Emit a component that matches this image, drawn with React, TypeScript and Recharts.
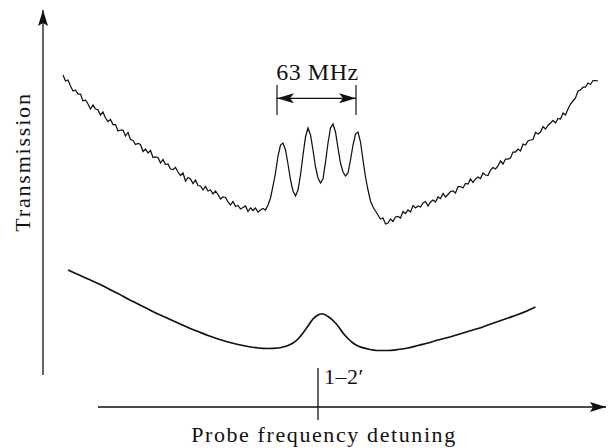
import { ComposedChart, Line, XAxis, YAxis, ReferenceLine, ReferenceDot } from "recharts";

// probe detuning in MHz, transmission in arbitrary units
const topDetuning = [
  -204, -202, -200, -198, -196, -194, -192, -190, -188, -186, -184, -182, -180, -178, -176, -174, -172, -170, -168, -166,
  -164, -162, -160, -158, -156, -154, -152, -150, -148, -146, -144, -142, -140, -138, -136, -134, -132, -130, -128, -126,
  -124, -122, -120, -118, -116, -114, -112, -110, -108, -106, -104, -102, -100, -98, -96, -94, -92, -90, -88, -86,
  -84, -82, -80, -78, -76, -74, -72, -70, -68, -66, -64, -62, -60, -58, -56, -54, -52, -50, -48, -46, -44,
  -42, -40, -38, -36, -34, -32, -30, -28, -26, -24, -22, -20, -18, -16, -14, -12, -10, -8, -6, -4, -2,
  0, 2, 4, 6, 8, 10, 12, 14, 16, 18, 20, 22, 24, 26, 28, 30, 32, 34, 36, 38, 40, 42, 44, 46, 48,
  50, 52, 54, 56, 58, 60, 62, 64, 66, 68, 70, 72, 74, 76, 78, 80, 82, 84, 86, 88,
  90, 92, 94, 96, 98, 100, 102, 104, 106, 108, 110, 112, 114, 116, 118, 120, 122, 124, 126, 128,
  130, 132, 134, 136, 138, 140, 142, 144, 146, 148, 150, 152, 154, 156, 158, 160, 162, 164, 166, 168,
  170, 172, 174, 176, 178, 180, 182, 184, 186, 188, 190, 192, 194, 196, 198, 200, 202, 204, 206, 208,
  210, 212, 214, 216, 218, 220, 222, 224,
];
const topTransmission = [
  3.73, 3.67, 3.68, 3.62, 3.57, 3.58, 3.54, 3.54, 3.47, 3.48, 3.44, 3.39, 3.43, 3.39, 3.38, 3.33, 3.36, 3.3, 3.265, 3.285,
  3.235, 3.235, 3.17, 3.18, 3.18, 3.12, 3.155, 3.085, 3.075, 3.035, 3.045, 3.035, 2.965, 2.99, 2.95, 2.975, 2.905, 2.91, 2.905, 2.85,
  2.885, 2.835, 2.84, 2.79, 2.785, 2.805, 2.76, 2.725, 2.75, 2.67, 2.705, 2.69, 2.645, 2.68, 2.625, 2.62, 2.58, 2.615, 2.57, 2.58,
  2.54, 2.57, 2.535, 2.49, 2.51, 2.505, 2.46, 2.43, 2.465, 2.415, 2.425, 2.39, 2.405, 2.42, 2.365, 2.4, 2.375, 2.4, 2.36, 2.38, 2.395,
  2.38, 2.43, 2.5, 2.62, 2.75, 2.92, 3.03, 3.05, 2.98, 2.84, 2.68, 2.57, 2.52, 2.58, 2.73, 2.93, 3.11, 3.2, 3.13, 2.98, 2.81,
  2.7, 2.65, 2.69, 2.86, 3.05, 3.2, 3.24, 3.16, 3.0, 2.85, 2.76, 2.72, 2.75, 2.88, 3.03, 3.14, 3.16, 3.06, 2.88, 2.71, 2.58, 2.47, 2.41, 2.37, 2.33,
  2.29, 2.3, 2.24, 2.25, 2.29, 2.265, 2.31, 2.315, 2.3, 2.365, 2.345, 2.38, 2.36, 2.425, 2.4, 2.42, 2.41, 2.45, 2.465, 2.42,
  2.46, 2.48, 2.46, 2.51, 2.495, 2.545, 2.51, 2.535, 2.565, 2.57, 2.55, 2.615, 2.615, 2.6, 2.645, 2.64, 2.69, 2.655, 2.69, 2.71,
  2.695, 2.75, 2.73, 2.725, 2.78, 2.805, 2.79, 2.82, 2.87, 2.84, 2.89, 2.89, 2.9, 2.96, 2.96, 2.99, 2.97, 3.04, 3.03, 3.07,
  3.08, 3.085, 3.155, 3.14, 3.16, 3.215, 3.19, 3.225, 3.25, 3.275, 3.25, 3.295, 3.29, 3.35, 3.33, 3.39, 3.44, 3.47, 3.5, 3.57,
  3.58, 3.61, 3.61, 3.65, 3.635, 3.675, 3.675, 3.67,
];

const bottomDetuning = [
  -200, -192, -184, -176, -168, -160, -152, -144, -136, -128, -120, -112, -104, -96, -88, -80, -72, -64, -56, -48, -40,
  -32, -28, -24, -20, -16, -12, -8, -4, 0, 2, 4, 8, 12, 16, 20, 24, 28, 32, 40, 48, 56, 64, 72, 80, 88, 96, 104, 112,
  120, 128, 136, 144, 152, 160, 168, 174,
];
const bottomTransmission = [
  1.78, 1.735, 1.69, 1.645, 1.595, 1.545, 1.49, 1.44, 1.39, 1.34, 1.295, 1.25, 1.205, 1.165, 1.125, 1.09, 1.06, 1.035, 1.015, 1.0, 0.995,
  1.0, 1.01, 1.025, 1.05, 1.09, 1.15, 1.22, 1.29, 1.33, 1.34, 1.34, 1.315, 1.275, 1.22, 1.15, 1.095, 1.05, 1.02, 0.99, 0.975, 0.975, 0.985, 1.0, 1.025, 1.05, 1.08, 1.105, 1.135,
  1.165, 1.195, 1.23, 1.265, 1.3, 1.335, 1.375, 1.41,
];

const splitting = [-32.8, 30.4]; // outer peaks, 63 MHz apart

const topData = topDetuning.map((d, i) => ({ detuning: d, transmission: topTransmission[i] }));
const bottomData = bottomDetuning.map((d, i) => ({ detuning: d, transmission: bottomTransmission[i] }));

const ink = "#111";
const font = "'Liberation Serif', serif";

export default function App() {
  return (
    <div style={{ position: "absolute", left: 0, top: 0, width: 608, height: 448, background: "#fff" }}>
      <ComposedChart width={608} height={448} margin={{ top: 0, right: 0, bottom: 0, left: 0 }}>
        <defs>
          <marker id="axisArrow" viewBox="0 0 16 10" refX="16" refY="5" markerWidth="16" markerHeight="10"
            markerUnits="userSpaceOnUse" orient="auto-start-reverse">
            <path d="M0,0 L16,5 L0,10 L3,5 Z" fill={ink} />
          </marker>
          <marker id="spanArrow" viewBox="0 0 17 10" refX="17" refY="5" markerWidth="17" markerHeight="10"
            markerUnits="userSpaceOnUse" orient="auto-start-reverse">
            <path d="M0,0 L17,5 L0,10 L4,5 Z" fill={ink} />
          </marker>
        </defs>
        <XAxis type="number" dataKey="detuning" domain={[-254.4, 232]} allowDataOverflow hide />
        <YAxis type="number" domain={[0, 4.48]} allowDataOverflow hide />

        {/* axes with arrow heads */}
        <ReferenceLine segment={[{ x: -220, y: 0.73 }, { x: -220, y: 4.38 }]} stroke={ink} strokeWidth={1.3} markerEnd="url(#axisArrow)" />
        <ReferenceLine segment={[{ x: -176, y: 0.41 }, { x: 230.4, y: 0.41 }]} stroke={ink} strokeWidth={1.3} markerEnd="url(#axisArrow)" />
        <ReferenceLine segment={[{ x: 0, y: 0.28 }, { x: 0, y: 0.8 }]} stroke={ink} strokeWidth={1.3} />

        {/* 63 MHz span */}
        <ReferenceLine segment={[{ x: splitting[0], y: 3.33 }, { x: splitting[0], y: 3.63 }]} stroke={ink} strokeWidth={1.2} />
        <ReferenceLine segment={[{ x: splitting[1], y: 3.33 }, { x: splitting[1], y: 3.63 }]} stroke={ink} strokeWidth={1.2} />
        <ReferenceLine segment={[{ x: splitting[0], y: 3.497 }, { x: splitting[1], y: 3.497 }]} stroke={ink} strokeWidth={1.2}
          markerStart="url(#spanArrow)" markerEnd="url(#spanArrow)" />

        <Line data={topData} dataKey="transmission" type="linear" stroke={ink} strokeWidth={1.25} dot={false} activeDot={false} isAnimationActive={false} />
        <Line data={bottomData} dataKey="transmission" type="monotone" stroke={ink} strokeWidth={1.7} dot={false} activeDot={false} isAnimationActive={false} />

        <ReferenceDot x={-0.4} y={3.765} r={0} fill="none" stroke="none"
          label={{ value: "63 MHz", position: "center", fill: ink, fontSize: 24, fontFamily: font, letterSpacing: 0.5 }} />
        <ReferenceDot x={4.8} y={0.72} r={0} fill="none" stroke="none"
          label={{ value: "1–2′", position: "right", offset: 0, fill: ink, fontSize: 22, fontFamily: font, letterSpacing: 0.5 }} />
        <ReferenceDot x={4.8} y={0.137} r={0} fill="none" stroke="none"
          label={{ value: "Probe frequency detuning", position: "center", fill: ink, fontSize: 22, fontFamily: font, letterSpacing: 1.6 }} />
        <ReferenceDot x={-236.8} y={2.86} r={0} fill="none" stroke="none"
          label={{ value: "Transmission", position: "center", angle: -90, fill: ink, fontSize: 22, fontFamily: font, letterSpacing: 1.8 }} />
      </ComposedChart>
    </div>
  );
}
